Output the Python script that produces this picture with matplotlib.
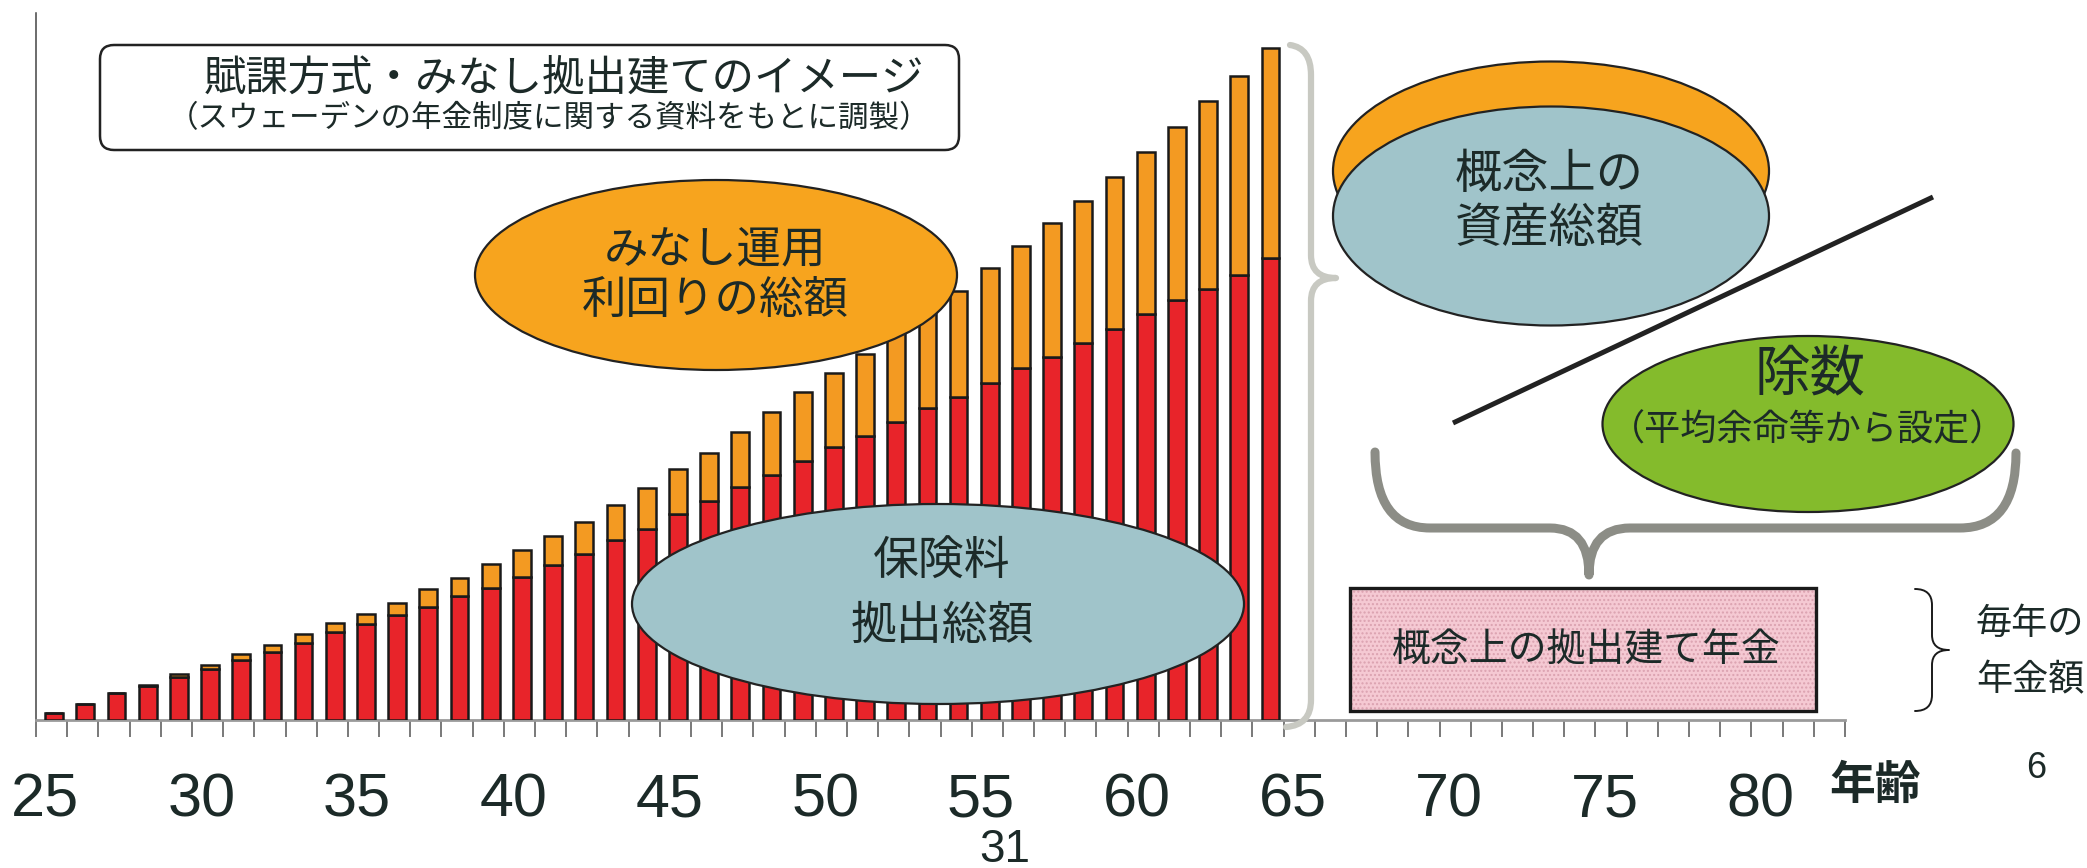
import numpy as np
import matplotlib
matplotlib.use('Agg')
import matplotlib.pyplot as plt
from matplotlib.patches import Ellipse, FancyBboxPatch, Rectangle, PathPatch
from matplotlib.path import Path

plt.rcParams['font.family'] = ['Noto Sans CJK JP', 'DejaVu Sans']

# contribution years and the accumulated amounts per year
ages = np.arange(25, 65)
contrib = [7, 16, 27, 34, 43, 51, 60, 68, 77, 88,
           96, 105, 113, 124, 132, 143, 155, 166, 180, 191,
           206, 219, 233, 245, 259, 273, 284, 298, 312, 323,
           337, 352, 363, 377, 391, 406, 420, 431, 445, 462]
returns = [0, 0, 0, 1.5, 3.5, 4.5, 6.5, 7, 9, 9.5,
           10, 12, 18, 18, 24, 27, 29, 32, 35, 41,
           45, 48, 55, 63, 69, 74, 82, 89, 95, 106,
           115, 122, 134, 142, 152, 162, 173, 188, 199, 210]
label_ages = [25, 30, 35, 40, 45, 50, 55, 60, 65, 70, 75, 80]

RED = '#e8242a'
ORANGE = '#f39a22'
BLUE = '#a0c4ca'
GREEN = '#84bb2c'
INK = '#1c2a28'
NUM_FONT = ['Liberation Sans', 'DejaVu Sans']

W, H = 2087, 868
fig = plt.figure(figsize=(W / 100, H / 100), dpi=100)

x0, x1, y_base, y_top = 36, 1845, 720, 13
ax = fig.add_axes([x0 / W, (H - y_base) / H, (x1 - x0) / W, (y_base - y_top) / H])
ax.set_xlim(25, 25 + (x1 - x0) / 31.2)
ax.set_ylim(0, y_base - y_top)

ax.bar(ages + 0.58, contrib, width=0.57, color=RED, edgecolor='#1a1a1a', linewidth=1.8, zorder=3)
ax.bar(ages + 0.58, returns, width=0.57, bottom=contrib, color=ORANGE,
       edgecolor='#1a1a1a', linewidth=1.8, zorder=3)

for s in ['top', 'right']:
    ax.spines[s].set_visible(False)
ax.spines['left'].set_color('#444444')
ax.spines['left'].set_linewidth(1.1)
ax.spines['bottom'].set_color('#9a9a9a')
ax.spines['bottom'].set_linewidth(2)
ax.set_yticks([])

ax.set_xticks(np.arange(25, 84), minor=True)
ax.tick_params(axis='x', which='minor', length=12, width=1.1, color='#555555', direction='out')
ax.set_xticks([a + 0.3 for a in label_ages])
ax.set_xticklabels([str(a) for a in label_ages], fontsize=44, color=INK, family=NUM_FONT)
ax.tick_params(axis='x', which='major', length=0, pad=38)

# drawing layer in pixel units over the whole figure
ov = fig.add_axes([0, 0, 1, 1], zorder=5)
ov.set_xlim(0, W)
ov.set_ylim(H, 0)
ov.axis('off')

def text(x, y, s, size, **kw):
    kw.setdefault('color', INK)
    ov.text(x, y, s, fontsize=size, ha='center', va='center', **kw)

def curve(points, codes, color, lw):
    ov.add_patch(PathPatch(Path(points, codes), facecolor='none', edgecolor=color,
                           linewidth=lw, capstyle='round', joinstyle='round'))

M, L, C = Path.MOVETO, Path.LINETO, Path.CURVE3

# title box
ov.add_patch(FancyBboxPatch((100, 45), 859, 105, boxstyle='round,pad=0,rounding_size=14',
                            facecolor='white', edgecolor='#222222', linewidth=1.8))
text(564, 79, '賦課方式・みなし拠出建てのイメージ', 30.5)
text(549, 119, '（スウェーデンの年金制度に関する資料をもとに調製）', 22)

# ellipses over the bars
ov.add_patch(Ellipse((716, 275), 482, 190, facecolor='#f7a41e', edgecolor='#222222', linewidth=1.6))
text(715, 250, 'みなし運用', 32)
text(715, 300, '利回りの総額', 32)

ov.add_patch(Ellipse((938, 604), 612, 200, facecolor=BLUE, edgecolor='#222222', linewidth=1.6))
text(942, 562, '保険料', 33)
text(942, 626, '拠出総額', 33)

# light brace next to the tallest bar
curve([(1290, 45), (1311, 48), (1311, 75), (1311, 255), (1311, 278), (1336, 278),
       (1311, 278), (1311, 301), (1311, 700), (1311, 725), (1286, 727)],
      [M, C, C, L, C, C, C, C, L, C, C], '#c8c9c2', 4.5)

# notional capital
ov.add_patch(Ellipse((1551, 171), 436, 219, facecolor='#f7a41e', edgecolor='#222222', linewidth=1.6))
ov.add_patch(Ellipse((1551, 216), 436, 219, facecolor=BLUE, edgecolor='#222222', linewidth=1.6))
text(1549, 175, '概念上の', 34)
text(1549, 229, '資産総額', 34)

ov.plot([1453, 1933], [423, 197], color='#222222', linewidth=3.6, solid_capstyle='butt')

ov.add_patch(Ellipse((1808, 424), 411, 176, facecolor=GREEN, edgecolor='#222222', linewidth=1.6))
text(1810, 376, '除数', 40)
text(1808, 430, '（平均余命等から設定）', 26)

# brace pointing down to the pension box
curve([(1375, 452), (1375, 528), (1430, 528), (1550, 528), (1589, 528), (1589, 575),
       (1589, 528), (1630, 528), (1960, 528), (2016, 528), (2016, 453)],
      [M, C, C, L, C, C, C, C, L, C, C], '#8c8d86', 6.5)

ov.add_patch(Rectangle((1350, 588), 466, 123, facecolor='#f5c9d3', edgecolor='#dba2b0',
                       hatch='....', linewidth=0))
ov.add_patch(Rectangle((1350, 588), 466, 123, facecolor='none', edgecolor='#1a1a1a', linewidth=2.4))
text(1586, 650, '概念上の拠出建て年金', 28)

curve([(1915, 589), (1932, 589), (1932, 605), (1932, 635), (1932, 650), (1949, 650),
       (1932, 650), (1932, 665), (1932, 695), (1932, 711), (1915, 711)],
      [M, C, C, L, C, C, C, C, L, C, C], '#1a1a1a', 1.4)
text(2030, 624, '毎年の', 26)
text(2030, 680, '年金額', 26)

text(1875, 786, '年齢', 33, fontweight='bold')
text(2036, 768, '6', 26, family=NUM_FONT)
text(1005, 850, '31', 33, family=NUM_FONT)

fig.savefig('out.png', dpi=100, facecolor='white')
